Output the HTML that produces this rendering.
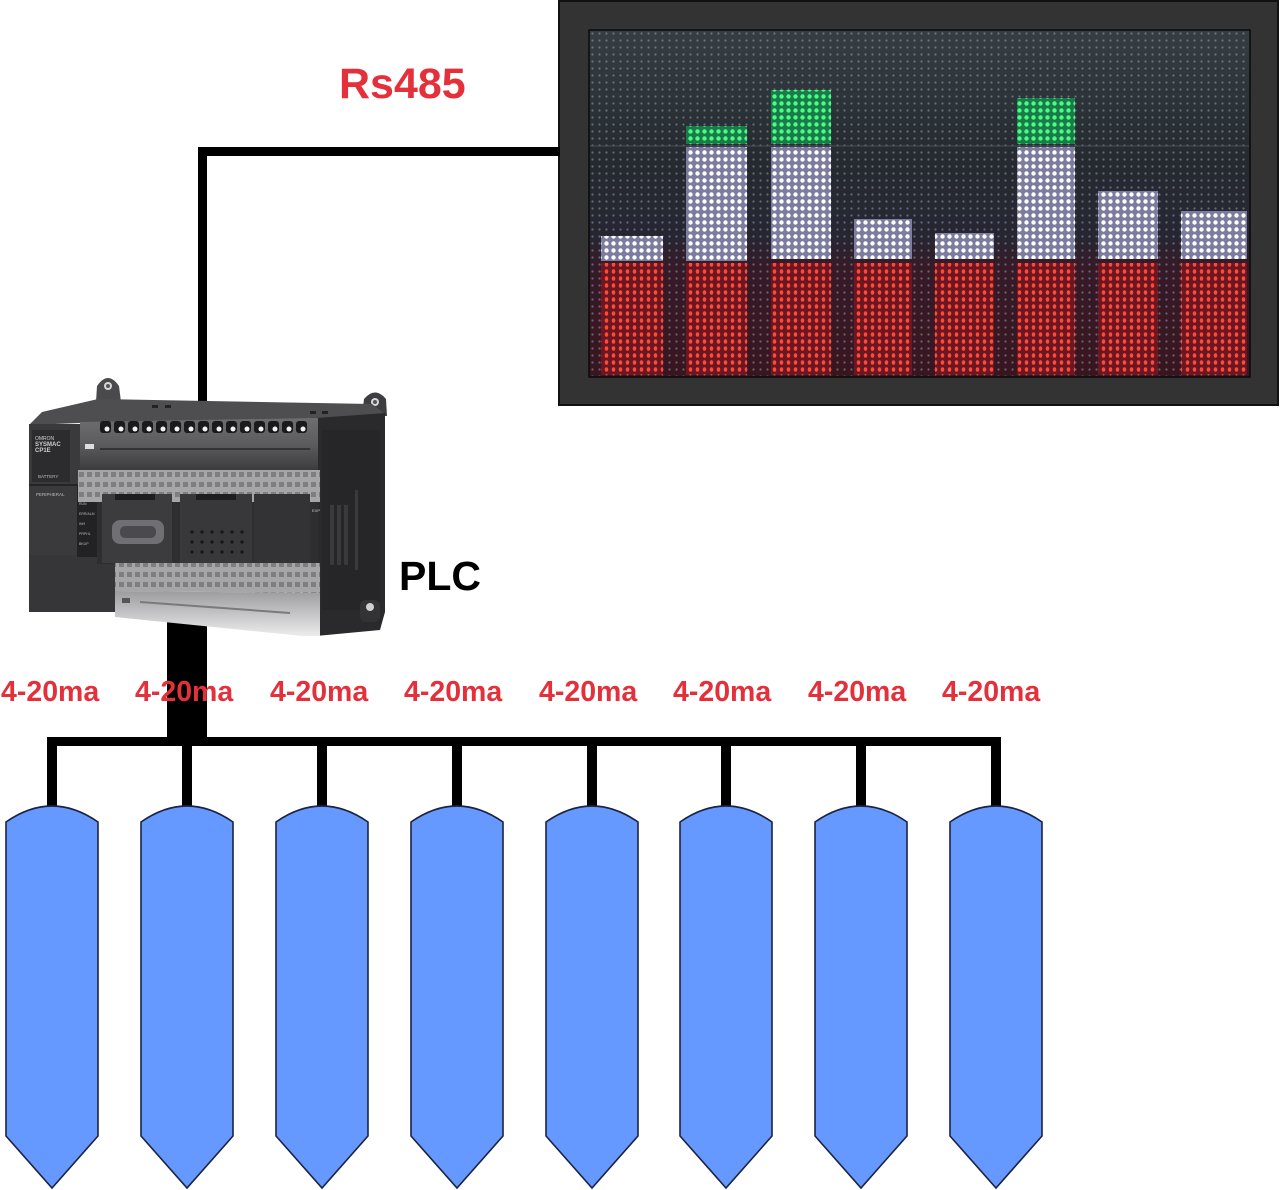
<!DOCTYPE html>
<html><head><meta charset="utf-8"><style>
html,body{margin:0;padding:0;background:#fff;}
svg{display:block;}
</style></head><body>
<svg width="1280" height="1190" viewBox="0 0 1280 1190" xmlns="http://www.w3.org/2000/svg">
<defs>
  <pattern id="pBg" width="7" height="7" patternUnits="userSpaceOnUse" x="589" y="30">
    <circle cx="3.5" cy="3.5" r="1.1" fill="#9aa4ae" fill-opacity="0.55"/>
  </pattern>
  <pattern id="pRed" width="7" height="7" patternUnits="userSpaceOnUse" x="589" y="30">
    <rect width="7" height="7" fill="#6c1622"/>
    <ellipse cx="3.5" cy="3.5" rx="1.8" ry="2.3" fill="#ff4a38"/>
  </pattern>
  <pattern id="pWhite" width="7" height="7" patternUnits="userSpaceOnUse" x="589" y="30">
    <rect width="7" height="7" fill="#7c7c9e"/>
    <ellipse cx="3.5" cy="3.5" rx="2.2" ry="2.2" fill="#ffffff"/>
  </pattern>
  <pattern id="pGreen" width="7" height="7" patternUnits="userSpaceOnUse" x="589" y="30">
    <rect width="7" height="7" fill="#1c7a48"/>
    <ellipse cx="3.5" cy="3.5" rx="2.2" ry="2.2" fill="#46ff86"/>
  </pattern>
  <linearGradient id="gScreen" x1="0" y1="0" x2="0" y2="1">
    <stop offset="0" stop-color="#363e44"/>
    <stop offset="0.35" stop-color="#252b31"/>
    <stop offset="0.6" stop-color="#262632"/>
    <stop offset="0.68" stop-color="#361a28"/>
    <stop offset="1" stop-color="#381620"/>
  </linearGradient>
  <linearGradient id="gTop" x1="0" y1="0" x2="0" y2="1">
    <stop offset="0" stop-color="#6e6e70"/>
    <stop offset="0.5" stop-color="#5c5c5e"/>
    <stop offset="1" stop-color="#3c3c3e"/>
  </linearGradient>
  <linearGradient id="gBot" x1="0" y1="0" x2="0" y2="1">
    <stop offset="0" stop-color="#9c9c9e"/>
    <stop offset="0.5" stop-color="#c4c4c6"/>
    <stop offset="1" stop-color="#ececec"/>
  </linearGradient>
  <pattern id="pStrip" width="8" height="10" patternUnits="userSpaceOnUse" x="78" y="470">
    <rect width="8" height="10" fill="#a6a6a8"/>
    <rect x="1" y="2" width="5" height="5" fill="#7e7e80"/>
  </pattern>
</defs>

<!-- LED display frame -->
<rect x="559" y="1" width="719" height="404" fill="#333333" stroke="#111" stroke-width="2"/>
<rect x="589" y="30" width="661" height="347" fill="url(#gScreen)" stroke="#0a0a0a" stroke-width="1.5"/>
<rect x="590" y="31" width="659" height="345" fill="url(#pBg)"/>
<line x1="590" y1="146" x2="1249" y2="146" stroke="#4a5058" stroke-width="1"/>

<!-- bars: red -->
<rect x="601" y="263" width="62" height="112" fill="url(#pRed)"/>
<rect x="686" y="263" width="61" height="112" fill="url(#pRed)"/>
<rect x="771" y="263" width="60" height="112" fill="url(#pRed)"/>
<rect x="854" y="263" width="58" height="112" fill="url(#pRed)"/>
<rect x="935" y="263" width="59" height="112" fill="url(#pRed)"/>
<rect x="1017" y="263" width="58" height="112" fill="url(#pRed)"/>
<rect x="1098" y="263" width="60" height="112" fill="url(#pRed)"/>
<rect x="1181" y="263" width="66" height="112" fill="url(#pRed)"/>
<!-- white -->
<rect x="601" y="236" width="62" height="25" fill="url(#pWhite)"/>
<rect x="686" y="147" width="61" height="114" fill="url(#pWhite)"/>
<rect x="771" y="147" width="60" height="112" fill="url(#pWhite)"/>
<rect x="854" y="219" width="58" height="40" fill="url(#pWhite)"/>
<rect x="935" y="233" width="59" height="26" fill="url(#pWhite)"/>
<rect x="1017" y="147" width="58" height="112" fill="url(#pWhite)"/>
<rect x="1098" y="191" width="60" height="68" fill="url(#pWhite)"/>
<rect x="1181" y="211" width="66" height="48" fill="url(#pWhite)"/>
<!-- green -->
<rect x="686" y="126" width="61" height="18" fill="url(#pGreen)"/>
<rect x="771" y="90" width="60" height="54" fill="url(#pGreen)"/>
<rect x="1017" y="98" width="58" height="46" fill="url(#pGreen)"/>

<!-- Rs485 line -->
<rect x="198" y="147" width="362" height="9" fill="#000"/>
<rect x="198" y="147" width="9" height="258" fill="#000"/>
<text x="339" y="98" font-family="Liberation Sans, Arial, sans-serif" font-weight="bold" font-size="43" fill="#e4303a">Rs485</text>

<!-- trunk -->
<rect x="167" y="600" width="40" height="146" fill="#000"/>

<!-- PLC -->
<g>
  <path d="M96,402 L97,386 Q108,370 119,386 L121,402 Z" fill="#4a4a4c"/>
  <circle cx="108" cy="386" r="4" fill="#d8d8d8"/>
  <circle cx="108" cy="386" r="2" fill="#555"/>
  <path d="M362,416 L364,399 Q375,386 386,399 L387,416 Z" fill="#3e3e40"/>
  <circle cx="375" cy="402" r="4" fill="#d8d8d8"/>
  <circle cx="375" cy="402" r="2" fill="#555"/>
  <polygon points="29,425 42,412 98,399 372,404 385,414 320,419 80,423" fill="#4e4e50"/>
  <rect x="152" y="405" width="6" height="3" fill="#222"/>
  <rect x="165" y="405" width="6" height="3" fill="#222"/>
  <rect x="310" y="411" width="6" height="3" fill="#222"/>
  <rect x="322" y="411" width="6" height="3" fill="#222"/>
  <polygon points="316,418 385,413 385,612 380,630 316,636" fill="#2a2a2c"/>
  <rect x="322" y="430" width="58" height="180" fill="#262628"/>
  <rect x="330" y="505" width="4" height="60" fill="#3a3a3c"/>
  <rect x="337" y="505" width="4" height="60" fill="#3a3a3c"/>
  <rect x="344" y="505" width="4" height="60" fill="#3a3a3c"/>
  <rect x="355" y="490" width="3" height="80" fill="#3a3a3c"/>
  <rect x="360" y="600" width="20" height="22" rx="6" fill="#333335"/>
  <circle cx="370" cy="607" r="4" fill="#d0d0d0"/>
  <rect x="29" y="424" width="51" height="188" fill="#3a3a3c"/>
  <rect x="32" y="430" width="38" height="52" fill="#2c2c2e"/>
  <text x="35" y="440" font-family="Liberation Sans, Arial, sans-serif" font-size="5" fill="#cfcfcf">OMRON</text>
  <text x="35" y="446" font-family="Liberation Sans, Arial, sans-serif" font-size="6" font-weight="bold" fill="#cfcfcf">SYSMAC</text>
  <text x="35" y="452" font-family="Liberation Sans, Arial, sans-serif" font-size="6" font-weight="bold" fill="#cfcfcf">CP1E</text>
  <text x="38" y="478" font-family="Liberation Sans, Arial, sans-serif" font-size="4.5" fill="#bdbdbd">BATTERY</text>
  <rect x="29" y="484" width="51" height="2" fill="#242426"/>
  <text x="36" y="496" font-family="Liberation Sans, Arial, sans-serif" font-size="4.5" fill="#bdbdbd">PERIPHERAL</text>
  <rect x="29" y="555" width="88" height="57" fill="#363638"/>
  <rect x="77" y="485" width="20" height="72" fill="#222224"/>
  <text x="79" y="495" font-family="Liberation Sans, Arial, sans-serif" font-size="3.5" fill="#bbb">POWER</text>
  <text x="79" y="505" font-family="Liberation Sans, Arial, sans-serif" font-size="3.5" fill="#bbb">RUN</text>
  <text x="79" y="515" font-family="Liberation Sans, Arial, sans-serif" font-size="3.5" fill="#bbb">ERR/ALM</text>
  <text x="79" y="525" font-family="Liberation Sans, Arial, sans-serif" font-size="3.5" fill="#bbb">INH</text>
  <text x="79" y="535" font-family="Liberation Sans, Arial, sans-serif" font-size="3.5" fill="#bbb">PRPHL</text>
  <text x="79" y="545" font-family="Liberation Sans, Arial, sans-serif" font-size="3.5" fill="#bbb">BKUP</text>
  <polygon points="80,422 318,418 318,470 80,470" fill="url(#gTop)"/>
  <g fill="#1a1a1c">
    <rect x="100" y="421" width="11" height="12" rx="3"/><rect x="114" y="421" width="11" height="12" rx="3"/>
    <rect x="128" y="421" width="11" height="12" rx="3"/><rect x="142" y="421" width="11" height="12" rx="3"/>
    <rect x="156" y="421" width="11" height="12" rx="3"/><rect x="170" y="421" width="11" height="12" rx="3"/>
    <rect x="184" y="421" width="11" height="12" rx="3"/><rect x="198" y="421" width="11" height="12" rx="3"/>
    <rect x="212" y="421" width="11" height="12" rx="3"/><rect x="226" y="421" width="11" height="12" rx="3"/>
    <rect x="240" y="421" width="11" height="12" rx="3"/><rect x="254" y="421" width="11" height="12" rx="3"/>
    <rect x="268" y="421" width="11" height="12" rx="3"/><rect x="282" y="421" width="11" height="12" rx="3"/>
    <rect x="296" y="421" width="11" height="12" rx="3"/>
  </g>
  <g fill="#f2f2f2">
    <circle cx="107" cy="429" r="2.5"/><circle cx="121" cy="429" r="2.5"/><circle cx="135" cy="429" r="2.5"/>
    <circle cx="149" cy="429" r="2.5"/><circle cx="163" cy="429" r="2.5"/><circle cx="177" cy="429" r="2.5"/>
    <circle cx="191" cy="429" r="2.5"/><circle cx="205" cy="429" r="2.5"/><circle cx="219" cy="429" r="2.5"/>
    <circle cx="233" cy="429" r="2.5"/><circle cx="247" cy="429" r="2.5"/><circle cx="261" cy="429" r="2.5"/>
    <circle cx="275" cy="429" r="2.5"/><circle cx="289" cy="429" r="2.5"/><circle cx="303" cy="429" r="2.5"/>
  </g>
  <rect x="85" y="444" width="9" height="5" fill="#ddd"/>
  <rect x="100" y="448" width="210" height="2" fill="#333"/>
  <rect x="78" y="470" width="242" height="32" fill="url(#pStrip)"/>
  <rect x="97" y="502" width="221" height="62" fill="#2e2e30"/>
  <rect x="102" y="494" width="70" height="69" fill="#3c3c3f"/>
  <rect x="115" y="494" width="40" height="6" fill="#1e1e20"/>
  <rect x="112" y="520" width="52" height="24" rx="8" fill="#707074"/>
  <rect x="120" y="526" width="36" height="12" rx="5" fill="#4a4a4e"/>
  <rect x="180" y="494" width="72" height="69" fill="#38383b"/>
  <rect x="196" y="494" width="40" height="6" fill="#1e1e20"/>
  <g fill="#151515">
    <circle cx="192" cy="532" r="1.6"/><circle cx="202" cy="532" r="1.6"/><circle cx="212" cy="532" r="1.6"/><circle cx="222" cy="532" r="1.6"/><circle cx="232" cy="532" r="1.6"/><circle cx="242" cy="532" r="1.6"/>
    <circle cx="192" cy="542" r="1.6"/><circle cx="202" cy="542" r="1.6"/><circle cx="212" cy="542" r="1.6"/><circle cx="222" cy="542" r="1.6"/><circle cx="232" cy="542" r="1.6"/><circle cx="242" cy="542" r="1.6"/>
    <circle cx="192" cy="552" r="1.6"/><circle cx="202" cy="552" r="1.6"/><circle cx="212" cy="552" r="1.6"/><circle cx="222" cy="552" r="1.6"/><circle cx="232" cy="552" r="1.6"/><circle cx="242" cy="552" r="1.6"/>
  </g>
  <rect x="254" y="494" width="56" height="69" fill="#333336"/>
  <text x="312" y="512" font-family="Liberation Sans, Arial, sans-serif" font-size="4" fill="#ccc">EXP</text>
  <polygon points="115,563 320,563 320,593 115,591" fill="url(#pStrip)"/>
  <polygon points="115,591 320,593 320,636 302,636 115,617" fill="url(#gBot)"/>
  <rect x="122" y="598" width="8" height="5" fill="#555"/>
  <line x1="140" y1="602" x2="290" y2="613" stroke="#7a7a7a" stroke-width="2"/>
</g>

<text x="399" y="590" font-family="Liberation Sans, Arial, sans-serif" font-weight="bold" font-size="41" fill="#000">PLC</text>

<g font-family="Liberation Sans, Arial, sans-serif" font-weight="bold" font-size="28.5" fill="#e4303a">
  <text x="1" y="701">4-20ma</text>
  <text x="135" y="701">4-20ma</text>
  <text x="270" y="701">4-20ma</text>
  <text x="404" y="701">4-20ma</text>
  <text x="539" y="701">4-20ma</text>
  <text x="673" y="701">4-20ma</text>
  <text x="808" y="701">4-20ma</text>
  <text x="942" y="701">4-20ma</text>
</g>

<rect x="47" y="737" width="953" height="9" fill="#000"/>
<g fill="#000">
  <rect x="47" y="737" width="10" height="71"/>
  <rect x="182" y="737" width="10" height="71"/>
  <rect x="317" y="737" width="10" height="71"/>
  <rect x="452" y="737" width="10" height="71"/>
  <rect x="587" y="737" width="10" height="71"/>
  <rect x="721" y="737" width="10" height="71"/>
  <rect x="856" y="737" width="10" height="71"/>
  <rect x="991" y="737" width="10" height="71"/>
</g>

<g fill="#6699ff" stroke="#1c2340" stroke-width="1.6" stroke-linejoin="miter">
  <path d="M6,822 Q52,790 98,822 L98,1136 L52,1188 L6,1136 Z"/>
  <path d="M141,822 Q187,790 233,822 L233,1136 L187,1188 L141,1136 Z"/>
  <path d="M276,822 Q322,790 368,822 L368,1136 L322,1188 L276,1136 Z"/>
  <path d="M411,822 Q457,790 503,822 L503,1136 L457,1188 L411,1136 Z"/>
  <path d="M546,822 Q592,790 638,822 L638,1136 L592,1188 L546,1136 Z"/>
  <path d="M680,822 Q726,790 772,822 L772,1136 L726,1188 L680,1136 Z"/>
  <path d="M815,822 Q861,790 907,822 L907,1136 L861,1188 L815,1136 Z"/>
  <path d="M950,822 Q996,790 1042,822 L1042,1136 L996,1188 L950,1136 Z"/>
</g>
</svg>
</body></html>
